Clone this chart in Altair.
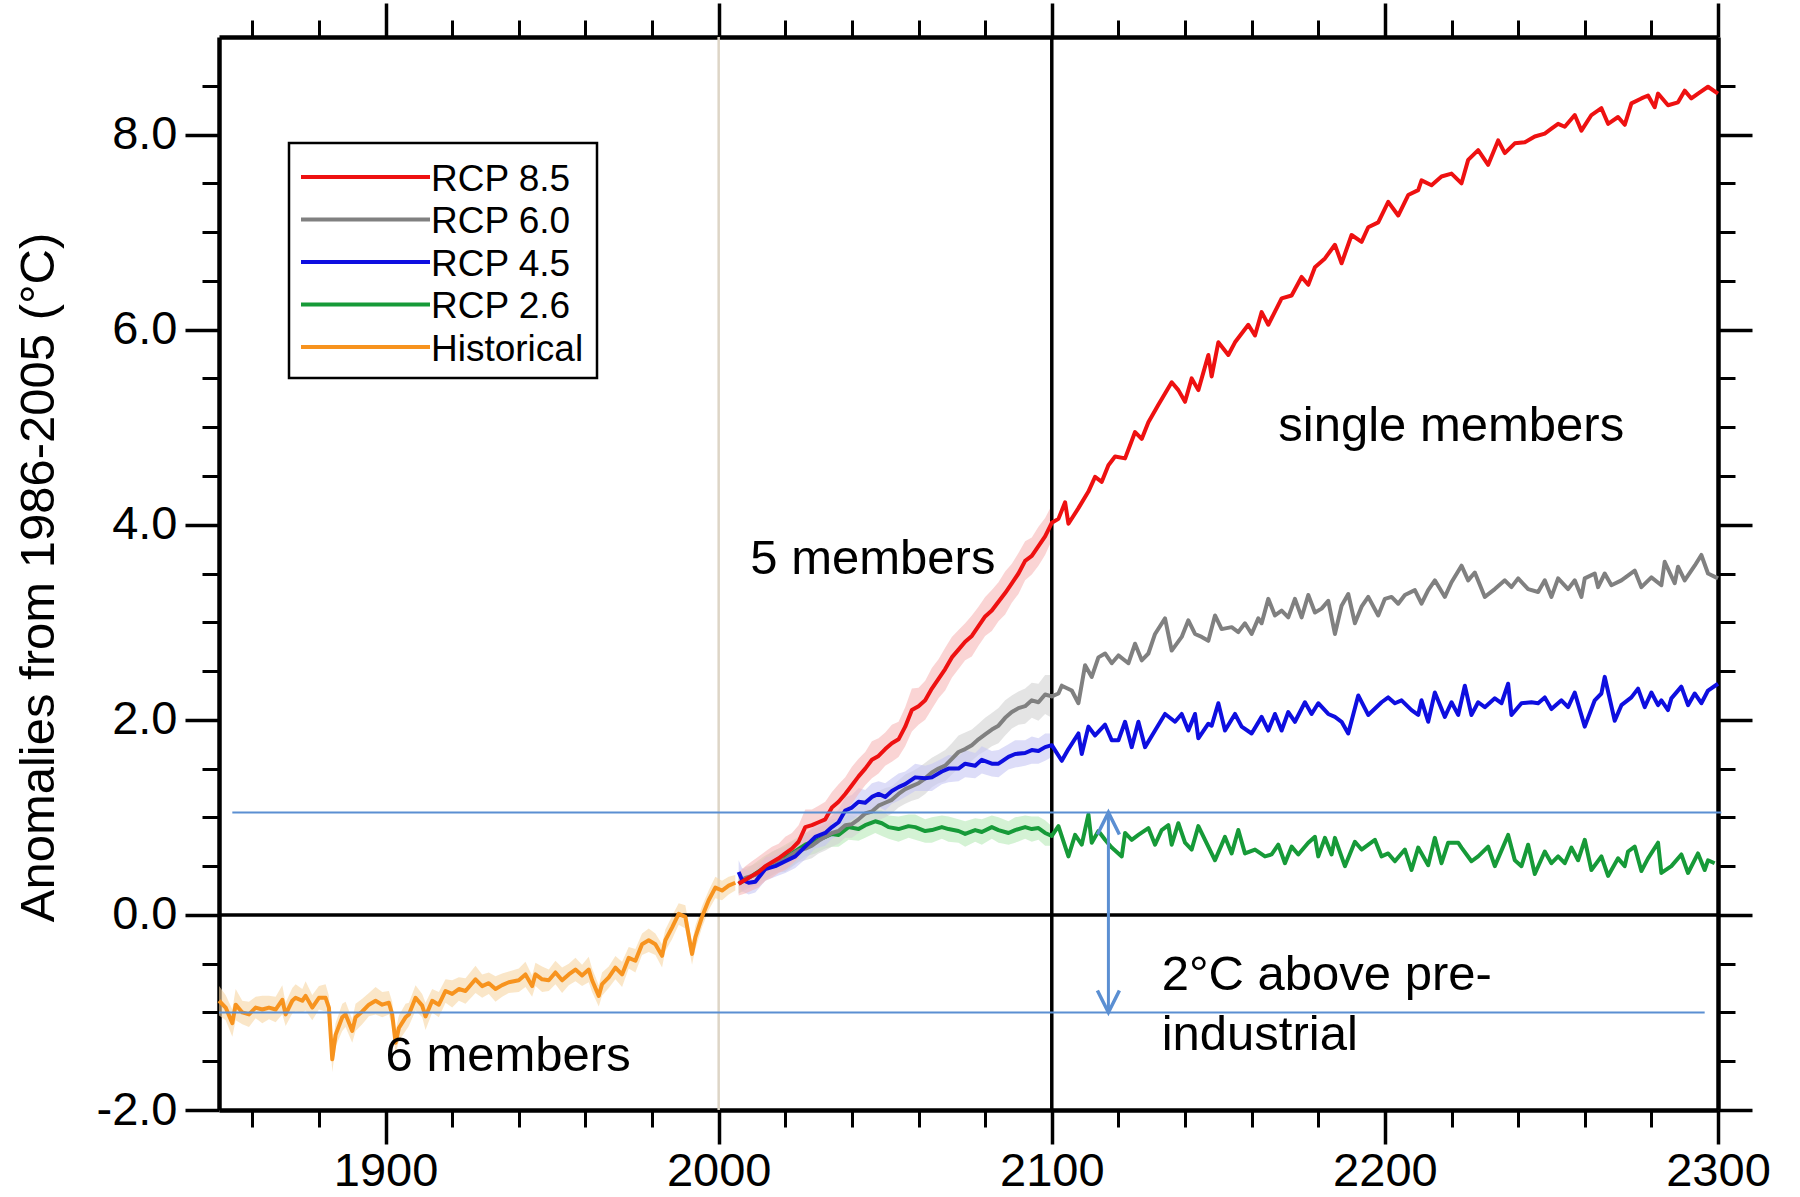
import altair as alt
import pandas as pd

FONT = "Liberation Sans"

# ---------------- data ----------------
hist_year = [1850, 1852, 1854, 1855, 1857, 1859, 1861, 1863, 1865, 1867,
             1869, 1870, 1872, 1873, 1875, 1876, 1878, 1880, 1882, 1883,
             1884, 1885, 1887, 1888, 1890, 1891, 1893, 1895, 1897, 1899,
             1901, 1902, 1903, 1904, 1906, 1907, 1909, 1911, 1912, 1914,
             1916, 1918, 1920, 1922, 1924, 1927, 1929, 1931, 1933, 1935,
             1937, 1940, 1942, 1944, 1945, 1947, 1949, 1951, 1953, 1955,
             1957, 1959, 1961, 1962, 1964, 1965, 1967, 1969, 1971, 1973,
             1975, 1977, 1979, 1981, 1983, 1984, 1986, 1988, 1990, 1992,
             1993, 1995, 1997, 1999, 2001, 2003, 2005]
hist_val = [-0.88, -0.95, -1.11, -0.92, -1.00, -1.02, -0.95, -0.97, -0.95, -0.97,
            -0.87, -1.02, -0.88, -0.85, -0.88, -0.83, -0.95, -0.85, -0.85, -0.95,
            -1.48, -1.23, -1.05, -1.02, -1.19, -1.05, -0.99, -0.92, -0.88, -0.92,
            -0.90, -1.02, -1.31, -1.16, -1.05, -1.02, -0.85, -0.93, -1.04, -0.88,
            -0.92, -0.78, -0.81, -0.76, -0.78, -0.66, -0.73, -0.70, -0.76, -0.72,
            -0.69, -0.67, -0.61, -0.73, -0.61, -0.66, -0.67, -0.59, -0.67, -0.61,
            -0.56, -0.62, -0.56, -0.67, -0.83, -0.71, -0.64, -0.54, -0.61, -0.44,
            -0.47, -0.30, -0.26, -0.30, -0.42, -0.26, -0.13, 0.01, -0.02, -0.40,
            -0.23, -0.02, 0.15, 0.28, 0.25, 0.30, 0.33]
hist_spread = [0.15, 0.13, 0.14, 0.16, 0.12, 0.13, 0.11, 0.14, 0.12, 0.13,
               0.15, 0.12, 0.13, 0.14, 0.12, 0.15, 0.13, 0.12, 0.14, 0.12,
               0.13, 0.12, 0.14, 0.13, 0.12, 0.14, 0.13, 0.12, 0.14, 0.13,
               0.12, 0.13, 0.12, 0.13, 0.14, 0.12, 0.13, 0.12, 0.14, 0.12,
               0.13, 0.12, 0.14, 0.12, 0.13, 0.14, 0.12, 0.11, 0.13, 0.12,
               0.11, 0.12, 0.13, 0.11, 0.12, 0.13, 0.11, 0.12, 0.13, 0.11,
               0.12, 0.11, 0.13, 0.12, 0.11, 0.12, 0.11, 0.12, 0.13, 0.11,
               0.12, 0.11, 0.12, 0.11, 0.12, 0.11, 0.12, 0.11, 0.12, 0.11,
               0.12, 0.11, 0.10, 0.11, 0.10, 0.09, 0.08]

rcp85_year = [2006, 2008, 2010, 2012, 2014, 2016, 2018, 2020, 2022, 2024,
              2026, 2028, 2030, 2032, 2034, 2036, 2038, 2040, 2042, 2044,
              2046, 2048, 2050, 2052, 2054, 2056, 2058, 2060, 2062, 2064,
              2066, 2068, 2070, 2072, 2074, 2076, 2078, 2080, 2082, 2084,
              2086, 2088, 2090, 2092, 2094, 2096, 2098, 2100,
              2102, 2104, 2105, 2108, 2111, 2113, 2115, 2117, 2119, 2122,
              2125, 2127, 2129, 2132, 2136, 2138, 2140, 2142, 2144, 2147,
              2148, 2150, 2153, 2155, 2159, 2161, 2163, 2165, 2169, 2172,
              2175, 2177, 2179, 2182, 2185, 2187, 2190, 2193, 2195, 2198,
              2201, 2204, 2207, 2210, 2211, 2214, 2217, 2220, 2223, 2225,
              2228, 2231, 2234, 2236, 2239, 2242, 2245, 2248, 2250, 2252,
              2254, 2257, 2259, 2262, 2265, 2267, 2270, 2272, 2274, 2277,
              2279, 2281, 2282, 2285, 2288, 2290, 2292, 2294, 2297, 2300]
rcp85_val = [0.32, 0.36, 0.40, 0.44, 0.50, 0.54, 0.58, 0.63, 0.68, 0.75,
             0.90, 0.92, 0.95, 0.98, 1.10, 1.16, 1.24, 1.33, 1.42, 1.50,
             1.59, 1.63, 1.70, 1.76, 1.80, 1.93, 2.10, 2.14, 2.20, 2.32,
             2.42, 2.52, 2.64, 2.72, 2.80, 2.86, 2.96, 3.06, 3.12, 3.21,
             3.30, 3.40, 3.50, 3.63, 3.68, 3.78, 3.88, 4.02,
             4.06, 4.23, 4.01, 4.17, 4.34, 4.49, 4.44, 4.61, 4.70, 4.68,
             4.95, 4.88, 5.05, 5.23, 5.46, 5.38, 5.26, 5.50, 5.38, 5.74,
             5.52, 5.87, 5.74, 5.87, 6.05, 5.94, 6.18, 6.05, 6.32, 6.35,
             6.54, 6.46, 6.64, 6.73, 6.87, 6.68, 6.97, 6.90, 7.05, 7.10,
             7.31, 7.17, 7.38, 7.43, 7.53, 7.48, 7.57, 7.60, 7.50, 7.74,
             7.84, 7.69, 7.94, 7.81, 7.91, 7.92, 7.98, 8.01, 8.06, 8.11,
             8.08, 8.20, 8.04, 8.20, 8.27, 8.11, 8.18, 8.10, 8.32, 8.37,
             8.40, 8.28, 8.42, 8.30, 8.33, 8.45, 8.37, 8.42, 8.49, 8.42]
rcp85_spread = [0.12, 0.14, 0.15, 0.16, 0.15, 0.16, 0.15, 0.17, 0.16, 0.17,
                0.18, 0.16, 0.17, 0.18, 0.16, 0.18, 0.17, 0.19, 0.18, 0.17,
                0.19, 0.18, 0.17, 0.19, 0.18, 0.20, 0.22, 0.19, 0.20, 0.21,
                0.20, 0.22, 0.21, 0.20, 0.19, 0.21, 0.20, 0.20, 0.21, 0.20,
                0.22, 0.20, 0.21, 0.20, 0.19, 0.20, 0.19, 0.18]

rcp60_year = [2006, 2008, 2010, 2012, 2014, 2016, 2018, 2020, 2022, 2024,
              2026, 2028, 2030, 2032, 2034, 2036, 2038, 2040, 2042, 2044,
              2046, 2048, 2050, 2052, 2054, 2056, 2058, 2060, 2062, 2064,
              2066, 2068, 2070, 2072, 2074, 2076, 2078, 2080, 2082, 2084,
              2086, 2088, 2090, 2092, 2094, 2096, 2098, 2100,
              2102, 2103, 2106, 2108, 2110, 2112, 2114, 2116, 2118, 2120,
              2123, 2125, 2127, 2129, 2131, 2134, 2136, 2139, 2141, 2143,
              2145, 2147, 2149, 2151, 2154, 2156, 2158, 2160, 2162, 2163,
              2165, 2167, 2169, 2171, 2173, 2175, 2177, 2179, 2181, 2183,
              2185, 2187, 2189, 2191, 2193, 2195, 2198, 2200, 2202, 2204,
              2206, 2209, 2211, 2213, 2215, 2218, 2220, 2223, 2225, 2227,
              2230, 2233, 2236, 2238, 2240, 2243, 2246, 2248, 2250, 2252,
              2255, 2257, 2259, 2260, 2263, 2264, 2266, 2268, 2271, 2275,
              2277, 2280, 2283, 2284, 2287, 2288, 2290, 2293, 2295, 2297, 2300]
rcp60_val = [0.32, 0.38, 0.40, 0.42, 0.47, 0.53, 0.56, 0.57, 0.62, 0.66,
             0.68, 0.71, 0.76, 0.80, 0.84, 0.86, 0.92, 0.93, 0.98, 1.04,
             1.06, 1.12, 1.15, 1.18, 1.24, 1.29, 1.32, 1.35, 1.40, 1.46,
             1.50, 1.53, 1.60, 1.67, 1.70, 1.74, 1.80, 1.85, 1.90, 1.94,
             2.02, 2.08, 2.12, 2.14, 2.20, 2.18, 2.26, 2.24,
             2.27, 2.35, 2.30, 2.17, 2.56, 2.44, 2.64, 2.68, 2.58, 2.66,
             2.58, 2.78, 2.61, 2.68, 2.88, 3.04, 2.71, 2.85, 3.02, 2.88,
             2.85, 2.81, 3.07, 2.93, 2.95, 2.90, 2.99, 2.88, 3.04, 2.99,
             3.24, 3.07, 3.12, 3.05, 3.24, 3.05, 3.28, 3.10, 3.14, 3.22,
             2.88, 3.17, 3.29, 2.99, 3.16, 3.26, 3.07, 3.24, 3.26, 3.19,
             3.28, 3.33, 3.19, 3.33, 3.43, 3.26, 3.41, 3.58, 3.43, 3.51,
             3.26, 3.34, 3.43, 3.36, 3.45, 3.34, 3.31, 3.43, 3.26, 3.45,
             3.34, 3.43, 3.26, 3.45, 3.50, 3.36, 3.50, 3.38, 3.43, 3.53,
             3.36, 3.46, 3.38, 3.62, 3.40, 3.57, 3.43, 3.58, 3.69, 3.50, 3.45]
rcp60_spread = [0.10, 0.11, 0.11, 0.12, 0.12, 0.12, 0.12, 0.13, 0.13, 0.12,
                0.12, 0.13, 0.13, 0.14, 0.14, 0.13, 0.13, 0.14, 0.14, 0.15,
                0.14, 0.15, 0.15, 0.14, 0.14, 0.15, 0.15, 0.16, 0.16, 0.15,
                0.15, 0.16, 0.16, 0.17, 0.17, 0.16, 0.16, 0.17, 0.17, 0.18,
                0.18, 0.17, 0.17, 0.18, 0.18, 0.19, 0.20, 0.22]

rcp45_year = [2006, 2007, 2009, 2011, 2014, 2017, 2020, 2023, 2026, 2029,
              2032, 2034, 2036, 2038, 2040, 2042, 2044, 2046, 2048, 2050,
              2052, 2054, 2056, 2059, 2062, 2064, 2067, 2069, 2072, 2074,
              2077, 2079, 2082, 2084, 2087, 2089, 2092, 2094, 2096, 2098, 2100,
              2103, 2105, 2108, 2109, 2111, 2113, 2116, 2118, 2120, 2122,
              2124, 2126, 2128, 2131, 2134, 2137, 2139, 2141, 2143, 2144,
              2147, 2148, 2150, 2152, 2155, 2157, 2160, 2163, 2165, 2167,
              2169, 2171, 2173, 2176, 2178, 2180, 2183, 2185, 2187, 2189,
              2192, 2195, 2199, 2201, 2203, 2205, 2208, 2210, 2211, 2213,
              2215, 2218, 2220, 2222, 2224, 2226, 2228, 2230, 2233, 2235,
              2237, 2238, 2241, 2244, 2246, 2248, 2250, 2253, 2255, 2257,
              2260, 2263, 2265, 2266, 2269, 2271, 2274, 2276, 2278, 2280,
              2282, 2283, 2285, 2286, 2289, 2291, 2293, 2295, 2297, 2300]
rcp45_val = [0.44, 0.36, 0.33, 0.34, 0.47, 0.50, 0.55, 0.60, 0.70, 0.80,
             0.84, 0.90, 0.95, 1.07, 1.10, 1.16, 1.15, 1.21, 1.24, 1.21,
             1.27, 1.31, 1.34, 1.41, 1.40, 1.41, 1.47, 1.50, 1.50, 1.55,
             1.53, 1.59, 1.55, 1.55, 1.62, 1.65, 1.66, 1.69, 1.68, 1.72, 1.74,
             1.58, 1.70, 1.86, 1.65, 1.93, 1.84, 1.95, 1.79, 1.79, 1.98,
             1.72, 1.98, 1.72, 1.89, 2.06, 1.98, 2.06, 1.89, 2.06, 1.81,
             1.96, 1.94, 2.17, 1.89, 2.06, 1.93, 1.86, 2.03, 1.89, 2.06,
             1.89, 2.08, 1.98, 2.18, 2.06, 2.17, 2.06, 2.03, 1.98, 1.86,
             2.25, 2.05, 2.18, 2.23, 2.17, 2.20, 2.10, 2.05, 2.20, 1.98,
             2.28, 2.03, 2.18, 2.05, 2.35, 2.05, 2.18, 2.13, 2.22, 2.17,
             2.37, 2.05, 2.17, 2.18, 2.17, 2.23, 2.11, 2.20, 2.13, 2.28,
             1.93, 2.20, 2.27, 2.44, 1.99, 2.15, 2.23, 2.32, 2.13, 2.28,
             2.15, 2.20, 2.10, 2.22, 2.34, 2.15, 2.27, 2.17, 2.30, 2.37]
rcp45_spread = [0.12, 0.12, 0.12, 0.11, 0.12, 0.11, 0.12, 0.12, 0.13, 0.12,
                0.13, 0.12, 0.13, 0.14, 0.13, 0.14, 0.13, 0.14, 0.13, 0.14,
                0.13, 0.14, 0.13, 0.14, 0.13, 0.14, 0.13, 0.14, 0.13, 0.14,
                0.13, 0.14, 0.13, 0.14, 0.13, 0.14, 0.13, 0.14, 0.13, 0.14, 0.12]

rcp26_year = [2006, 2010, 2014, 2018, 2022, 2026, 2029, 2032, 2034, 2036,
              2039, 2042, 2044, 2047, 2049, 2051, 2054, 2057, 2059, 2062,
              2064, 2067, 2069, 2072, 2074, 2077, 2079, 2082, 2084, 2087,
              2089, 2092, 2094, 2096, 2098, 2100,
              2102, 2105, 2107, 2109, 2111, 2112, 2114, 2116, 2118, 2121,
              2122, 2124, 2126, 2129, 2131, 2133, 2135, 2136, 2138, 2140,
              2142, 2144, 2146, 2149, 2152, 2154, 2156, 2158, 2161, 2164,
              2166, 2168, 2170, 2172, 2174, 2177, 2179, 2180, 2182, 2184,
              2185, 2188, 2191, 2193, 2197, 2199, 2201, 2203, 2206, 2208,
              2210, 2213, 2215, 2217, 2219, 2222, 2223, 2226, 2228, 2231,
              2233, 2237, 2239, 2241, 2243, 2245, 2248, 2250, 2252, 2254,
              2256, 2258, 2260, 2262, 2265, 2267, 2270, 2272, 2273, 2275,
              2277, 2279, 2282, 2283, 2286, 2289, 2291, 2294, 2296, 2297, 2299]
rcp26_val = [0.32, 0.40, 0.49, 0.56, 0.63, 0.72, 0.76, 0.80, 0.83, 0.82,
             0.90, 0.88, 0.92, 0.96, 0.94, 0.90, 0.88, 0.91, 0.90, 0.86,
             0.87, 0.90, 0.88, 0.86, 0.83, 0.87, 0.85, 0.90, 0.87, 0.84,
             0.87, 0.90, 0.88, 0.89, 0.84, 0.81,
             0.91, 0.60, 0.82, 0.72, 1.03, 0.74, 0.86, 0.77, 0.69, 0.60,
             0.84, 0.77, 0.82, 0.89, 0.72, 0.87, 0.92, 0.72, 0.94, 0.74,
             0.67, 0.91, 0.77, 0.56, 0.80, 0.63, 0.87, 0.63, 0.67, 0.60,
             0.62, 0.72, 0.53, 0.70, 0.62, 0.74, 0.80, 0.60, 0.79, 0.62,
             0.79, 0.50, 0.75, 0.67, 0.77, 0.60, 0.63, 0.55, 0.67, 0.46,
             0.69, 0.51, 0.79, 0.53, 0.74, 0.74, 0.69, 0.55, 0.60, 0.70,
             0.50, 0.82, 0.56, 0.50, 0.72, 0.42, 0.65, 0.53, 0.60, 0.53,
             0.69, 0.56, 0.77, 0.46, 0.60, 0.40, 0.58, 0.50, 0.65, 0.70,
             0.45, 0.58, 0.74, 0.43, 0.50, 0.62, 0.43, 0.63, 0.46, 0.56, 0.53]
rcp26_spread = [0.10, 0.11, 0.12, 0.12, 0.13, 0.12, 0.13, 0.12, 0.13, 0.12,
                0.13, 0.12, 0.13, 0.12, 0.13, 0.12, 0.13, 0.12, 0.13, 0.12,
                0.13, 0.12, 0.13, 0.12, 0.13, 0.12, 0.13, 0.12, 0.13, 0.12,
                0.13, 0.12, 0.13, 0.12, 0.13, 0.10]

series_names = ["RCP 8.5", "RCP 6.0", "RCP 4.5", "RCP 2.6", "Historical"]
line_colors = ["#ee1111", "#808080", "#0e0ee0", "#169a38", "#f7931e"]
band_colors = ["#f7b8b8", "#d2d2d2", "#c6c6f4", "#b8eab8", "#f6d5a4"]

x_major = [1900, 2000, 2100, 2200, 2300]
x_minor = [1860, 1880, 1920, 1940, 1960, 1980, 2020, 2040, 2060, 2080,
           2120, 2140, 2160, 2180, 2220, 2240, 2260, 2280]
y_major = [-2, 0, 2, 4, 6, 8]
y_minor = [-1.5, -1, -0.5, 0.5, 1, 1.5, 2.5, 3, 3.5, 4.5, 5, 5.5, 6.5, 7, 7.5, 8.5]
x_domain = [1850, 2300]
y_domain = [-2, 9]

y_title = "Anomalies from 1986-2005 (°C)"
ann_text = ["5 members", "single members", "6 members", "2°C above pre-", "industrial"]
ann_year = [2009.5, 2168, 1900, 2133, 2133]
ann_val = [3.49, 4.86, -1.60, -0.77, -1.38]

thr_val = [1.05, -1.0]
thr_start = [1854, 1850]
thr_end = [2301, 2296]
arrow_year = [2117]
sep_years = [2000, 2100]

# ---------------- tables ----------------
series_data = [
    ("Historical", hist_year, hist_val, hist_spread),
    ("RCP 2.6", rcp26_year, rcp26_val, rcp26_spread),
    ("RCP 6.0", rcp60_year, rcp60_val, rcp60_spread),
    ("RCP 4.5", rcp45_year, rcp45_val, rcp45_spread),
    ("RCP 8.5", rcp85_year, rcp85_val, rcp85_spread),
]
line_rows, band_rows = [], []
for name, yrs, vals, spr in series_data:
    for i, (yr, v) in enumerate(zip(yrs, vals)):
        line_rows.append({"series": name, "year": yr, "val": v})
        if i < len(spr):
            band_rows.append({"series": name, "year": yr, "lo": v - spr[i], "hi": v + spr[i]})
df_lines = pd.DataFrame(line_rows)
df_bands = pd.DataFrame(band_rows)
color_of = dict(zip(series_names, line_colors))

xs = alt.Scale(domain=x_domain, nice=False, zero=False)
ys = alt.Scale(domain=y_domain, nice=False, zero=False)
ANN = "#5b8fd2"
W, H = 1499, 1073


def X(field):
    return alt.X(field, scale=xs, axis=None)


def Y(field):
    return alt.Y(field, scale=ys, axis=None)


layers = []

# separators
df_sep = pd.DataFrame({"year": sep_years, "lo": [y_domain[0]] * 2, "hi": [y_domain[1]] * 2})
layers.append(alt.Chart(df_sep.iloc[[0]]).mark_rule(color="#ddd5c6", strokeWidth=2.5).encode(
    x=X("year:Q"), y=Y("lo:Q"), y2="hi:Q"))

# bands
layers.append(alt.Chart(df_bands).mark_area(opacity=0.6).encode(
    x=X("year:Q"), y=Y("lo:Q"), y2="hi:Q",
    fill=alt.Fill("series:N", scale=alt.Scale(domain=series_names, range=band_colors), legend=None)))

# zero line and 2100 line
df_zero = pd.DataFrame({"x0": [x_domain[0]], "x1": [x_domain[1]], "v": [0]})
layers.append(alt.Chart(df_zero).mark_rule(color="black", strokeWidth=3.5).encode(
    x=X("x0:Q"), x2="x1:Q", y=Y("v:Q")))
layers.append(alt.Chart(df_sep.iloc[[1]]).mark_rule(color="black", strokeWidth=3.5).encode(
    x=X("year:Q"), y=Y("lo:Q"), y2="hi:Q"))

# lines
for name, _, _, _ in series_data:
    layers.append(alt.Chart(df_lines[df_lines.series == name]).mark_line(
        color=color_of[name], strokeWidth=4, strokeJoin="round").encode(
        x=X("year:Q"), y=Y("val:Q"), order="year:Q"))

# 2 degree annotation
df_thr = pd.DataFrame({"x0": thr_start, "x1": thr_end, "v": thr_val})
layers.append(alt.Chart(df_thr).mark_rule(color=ANN, strokeWidth=2).encode(
    x=X("x0:Q"), x2="x1:Q", y=Y("v:Q")))
df_arrow = pd.DataFrame({"year": arrow_year, "lo": [thr_val[1]], "hi": [thr_val[0]]})
layers.append(alt.Chart(df_arrow).mark_rule(color=ANN, strokeWidth=3).encode(
    x=X("year:Q"), y=Y("lo:Q"), y2="hi:Q"))
layers.append(alt.Chart(df_arrow).mark_point(
    shape="M-0.5,1L0,0L0.5,1", filled=False, size=1936, strokeWidth=3.5, color=ANN, opacity=1).encode(
    x=X("year:Q"), y=Y("hi:Q")))
layers.append(alt.Chart(df_arrow).mark_point(
    shape="M-0.5,-1L0,0L0.5,-1", filled=False, size=1936, strokeWidth=3.5, color=ANN, opacity=1).encode(
    x=X("year:Q"), y=Y("lo:Q")))

# text annotations
df_ann = pd.DataFrame({"year": ann_year, "val": ann_val, "label": ann_text})
layers.append(alt.Chart(df_ann).mark_text(
    align="left", baseline="alphabetic", font=FONT, fontSize=49, color="black").encode(
    x=X("year:Q"), y=Y("val:Q"), text="label:N"))

# legend (drawn box)
dummy = pd.DataFrame({"year": [x_domain[0]], "val": [y_domain[0]]})
layers.append(alt.Chart(dummy).mark_rect(fill="white", stroke="black", strokeWidth=2.5).encode(
    x=alt.value(70), x2=alt.value(378), y=alt.value(106), y2=alt.value(341)))
row_y = [140, 182.5, 225, 267.5, 310]
for i, name in enumerate(series_names):
    layers.append(alt.Chart(dummy).mark_rule(color=color_of[name], strokeWidth=4).encode(
        x=alt.value(82), x2=alt.value(211), y=alt.value(row_y[i])))
    layers.append(alt.Chart(dummy).mark_text(
        text=name, align="left", baseline="alphabetic", font=FONT, fontSize=37, color="black").encode(
        x=alt.value(212), y=alt.value(row_y[i] + 13.5)))

# axes
common = dict(tickColor="black", domainColor="black", domainWidth=4.5, grid=False,
              labelFlush=False, labelOverlap=False, title=None)


def axis_layer(xa, ya):
    return alt.Chart(dummy).mark_point(opacity=0).encode(
        x=alt.X("year:Q", scale=xs, axis=xa), y=alt.Y("val:Q", scale=ys, axis=ya))


x_main = alt.Axis(orient="bottom", values=x_major, format="d", tickSize=34, tickWidth=3.5,
                  labelFont=FONT, labelFontSize=47, labelColor="black", labelPadding=4, **common)
y_main_kw = dict(common)
y_main_kw["title"] = y_title
y_main = alt.Axis(orient="left", values=y_major, tickSize=34, tickWidth=3.5,
                  labelExpr="(datum.value < 0 ? '-' : '') + format(abs(datum.value), '.1f')",
                  labelFont=FONT, labelFontSize=47, labelColor="black", labelPadding=8,
                  titleFont=FONT, titleFontSize=49, titleFontWeight="normal", titleColor="black",
                  titleAngle=270, titleX=-166, titleY=540, titleAlign="center",
                  titleBaseline="alphabetic", **y_main_kw)
x_min = alt.Axis(orient="bottom", values=x_minor, tickSize=17, tickWidth=3, labels=False,
                 domain=False, **common)
y_min = alt.Axis(orient="left", values=y_minor, tickSize=17, tickWidth=3, labels=False,
                 domain=False, **common)
x_top = alt.Axis(orient="top", values=x_major, tickSize=34, tickWidth=3.5, labels=False, **common)
y_right = alt.Axis(orient="right", values=y_major, tickSize=34, tickWidth=3.5, labels=False, **common)
x_top_min = alt.Axis(orient="top", values=x_minor, tickSize=17, tickWidth=3, labels=False,
                     domain=False, **common)
y_right_min = alt.Axis(orient="right", values=y_minor, tickSize=17, tickWidth=3, labels=False,
                       domain=False, **common)

layers.append(axis_layer(x_main, y_main))
layers.append(axis_layer(x_min, y_min))
layers.append(axis_layer(x_top, y_right))
layers.append(axis_layer(x_top_min, y_right_min))

chart = alt.layer(*layers).resolve_axis(x="independent", y="independent").properties(
    width=W, height=H,
    padding={"left": 219, "top": 37, "right": 82, "bottom": 87},
    autosize=alt.AutoSizeParams(type="none"),
    background="white",
).configure_view(stroke=None)

chart.save("out.html", embed_options={"renderer": "svg", "actions": False})
